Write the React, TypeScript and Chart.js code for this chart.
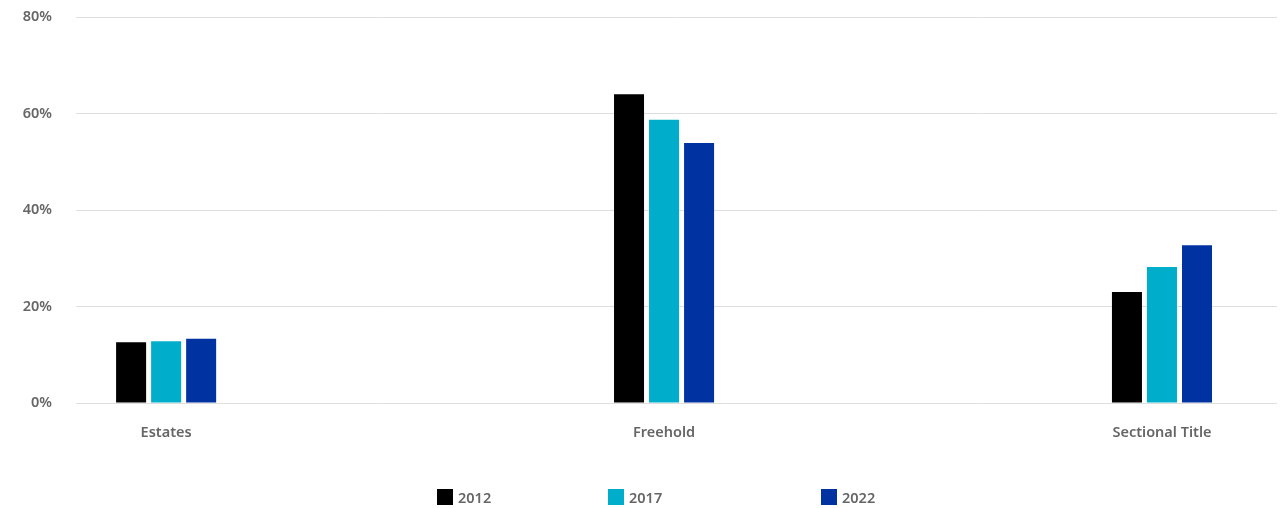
import React, { useEffect, useRef } from "react";
import { Chart, registerables } from "chart.js";

Chart.register(...registerables);

const categories = ["Estates", "Freehold", "Sectional Title"];
const seriesNames = ["2012", "2017", "2022"];
const values2012 = [12.6, 64.0, 23.0];
const values2017 = [12.8, 58.7, 28.2];
const values2022 = [13.3, 53.9, 32.7];
const seriesColors = ["#000000", "#00AECB", "#0033A1"];
const yTicks = [0, 20, 40, 60, 80];

const FONT = "'Noto Sans', sans-serif";
const TEXT = "#666666";
const FS = 14.5;

export default function App() {
  const ref = useRef<HTMLCanvasElement | null>(null);

  useEffect(() => {
    document.body.style.margin = "0";
    const seriesValues = [values2012, values2017, values2022];
    const chart = new Chart(ref.current as HTMLCanvasElement, {
      type: "bar",
      data: {
        datasets: seriesNames.map((name, s) => ({
          label: name,
          data: categories.map((_, i) => ({ x: i, y: seriesValues[s][i] })),
          backgroundColor: seriesColors[s],
          borderWidth: 0,
          categoryPercentage: 0.211,
          barPercentage: 0.857,
        })),
      },
      options: {
        animation: false,
        responsive: false,
        layout: { padding: { top: 17, right: 3, left: 0, bottom: 0 } },
        plugins: { legend: { display: false }, tooltip: { enabled: false } },
        scales: {
          x: {
            type: "linear",
            offset: false,
            min: -0.181,
            max: 2.231,
            afterBuildTicks: (scale: any) => {
              scale.ticks = categories.map((_, i) => ({ value: i }));
            },
            afterFit: (scale: any) => {
              scale.height = 105;
              scale.paddingLeft = 0;
              scale.paddingRight = 0;
            },
            grid: { display: false, drawTicks: false },
            border: { display: false },
            ticks: {
              autoSkip: false,
              maxRotation: 0,
              padding: 21,
              color: TEXT,
              font: { family: FONT, size: FS, weight: "600" },
              callback: (v: any) => categories[Math.round(Number(v))] ?? "",
            },
          },
          y: {
            min: 0,
            max: 80,
            afterBuildTicks: (scale: any) => {
              scale.ticks = yTicks.map((v) => ({ value: v }));
            },
            afterFit: (scale: any) => {
              scale.width = 76;
              scale.paddingTop = 0;
              scale.paddingBottom = 0;
            },
            grid: { color: "#dedede", drawTicks: false, lineWidth: 1 },
            border: { display: false },
            ticks: {
              padding: 24,
              color: TEXT,
              font: { family: FONT, size: FS, weight: "600" },
              callback: (v: any) => v + "%",
            },
          },
        },
      },
    });
    return () => chart.destroy();
  }, []);

  const legendLeft = [437, 608, 821];

  return (
    <div style={{ position: "relative", width: 1280, height: 508, fontFamily: FONT }}>
      <canvas ref={ref} width={1280} height={508} style={{ display: "block" }} />
      {seriesNames.map((name, s) => (
        <div
          key={name}
          style={{
            position: "absolute",
            left: legendLeft[s],
            top: 489,
            height: 16,
            display: "flex",
            alignItems: "center",
            color: TEXT,
            fontSize: FS,
            fontWeight: 600,
          }}
        >
          <span
            style={{
              width: 16,
              height: 16,
              background: seriesColors[s],
              display: "inline-block",
              marginRight: 5,
            }}
          />
          <span>{name}</span>
        </div>
      ))}
    </div>
  );
}
